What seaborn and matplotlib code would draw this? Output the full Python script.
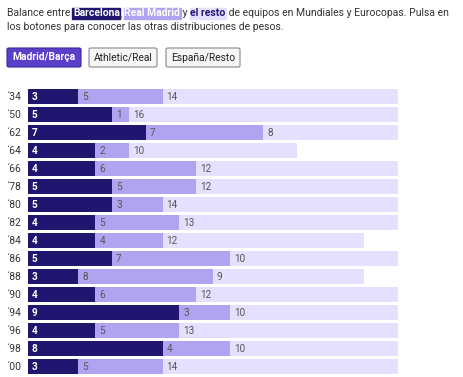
import matplotlib
matplotlib.use('Agg')
import matplotlib.pyplot as plt
import seaborn as sns
import pandas as pd
from matplotlib.patches import Rectangle, FancyBboxPatch

years = ["´34", "´50", "´62", "´64", "´66", "´78", "´80", "´82",
         "´84", "´86", "´88", "´90", "´94", "´96", "´98", "´00"]
barcelona = [3, 5, 7, 4, 4, 5, 5, 4, 4, 5, 3, 4, 9, 4, 8, 3]
madrid = [5, 1, 7, 2, 6, 5, 3, 5, 4, 7, 8, 6, 3, 5, 4, 5]
resto = [14, 16, 8, 10, 12, 12, 14, 13, 12, 10, 9, 12, 10, 13, 10, 14]
buttons = ["Madrid/Barça", "Athletic/Real", "España/Resto"]

C_DARK = "#21166f"
C_MID = "#b0a4f1"
C_LIGHT = "#e4e0fe"
C_BTN = "#5a40c9"

sns.set_theme(style="white")
plt.rcParams['font.family'] = ['Roboto', 'DejaVu Sans']

W, H = 464, 377
fig = plt.figure(figsize=(W / 100, H / 100), dpi=100)


def fx(px):
    return px / W


def fy(py):
    return 1 - py / H


# Bars axes
top, bottom = 87.5, 375.5
ax = fig.add_axes([fx(28), fy(bottom), fx(370), (bottom - top) / H])

df = pd.DataFrame({"year": years, "b": barcelona, "m": madrid, "r": resto})
df["bm"] = df["b"] + df["m"]
df["tot"] = df["bm"] + df["r"]

kw = dict(data=df, y="year", orient="h", width=15 / 18, saturation=1,
          linewidth=0, ax=ax, order=years)
sns.barplot(x="tot", color=C_LIGHT, **kw)
sns.barplot(x="bm", color=C_MID, **kw)
sns.barplot(x="b", color=C_DARK, **kw)

ax.set_xlim(0, 22)
ax.set_ylim(len(years) - 0.5, -0.5)
ax.set_xlabel("")
ax.set_ylabel("")
ax.set_xticks([])
for s in ax.spines.values():
    s.set_visible(False)
ax.tick_params(axis="y", length=0, pad=5, labelsize=7.4, labelcolor="#333333")

for i, row in df.iterrows():
    ax.annotate(str(row["b"]), (0, i), xytext=(4, 0), textcoords="offset pixels",
                ha="left", va="center", color="white", fontweight="bold", fontsize=7.2)
    ax.annotate(str(row["m"]), (row["b"], i), xytext=(4, 0), textcoords="offset pixels",
                ha="left", va="center", color="#555555", fontsize=7.2)
    ax.annotate(str(row["r"]), (row["bm"], i), xytext=(4, 0), textcoords="offset pixels",
                ha="left", va="center", color="#555555", fontsize=7.2)

# Header text
fig.canvas.draw()
renderer = fig.canvas.get_renderer()
fs = 7.45


def text_width(s, weight):
    t1 = fig.text(0, 0, s + "|", fontsize=fs, fontweight=weight)
    t2 = fig.text(0, 0, "|", fontsize=fs, fontweight=weight)
    w = t1.get_window_extent(renderer).width - t2.get_window_extent(renderer).width
    t1.remove()
    t2.remove()
    return w


pieces = [
    ("Balance entre ", None, "#333333", "normal"),
    ("Barcelona", C_DARK, "white", "bold"),
    (", ", None, "#333333", "normal"),
    ("Real Madrid", C_MID, "white", "bold"),
    (" y ", None, "#333333", "normal"),
    ("el resto", C_LIGHT, "#21166f", "bold"),
    (" de equipos en Mundiales y Eurocopas. Pulsa en", None, "#333333", "normal"),
]
x = 7
for txt, bg, col, wt in pieces:
    fig.text(fx(x), fy(13.5), txt, fontsize=fs, color=col, fontweight=wt,
             va="center", ha="left")
    w = text_width(txt, wt)
    if bg is not None:
        fig.patches.append(Rectangle((fx(x - 0.5), fy(18.5)), fx(w + 1), 10 / H,
                                     transform=fig.transFigure, color=bg, zorder=0.5))
    x += w
fig.text(fx(7), fy(26.5), "los botones para conocer las otras distribuciones de pesos.",
         fontsize=fs, color="#333333", va="center", ha="left")

# Buttons
btn_pos = [(7, 81), (89, 157), (166, 240)]
for i, (lbl, (x0, x1)) in enumerate(zip(buttons, btn_pos)):
    active = i == 0
    fig.patches.append(FancyBboxPatch((fx(x0), fy(67)), fx(x1 - x0), 19 / H,
                                      boxstyle="round,pad=0,rounding_size=0.004",
                                      transform=fig.transFigure,
                                      facecolor=C_BTN if active else "#f6f6f6",
                                      edgecolor="#3a2a9c" if active else "#8a8a8a",
                                      linewidth=0.8))
    fig.text(fx((x0 + x1) / 2), fy(57.5), lbl, fontsize=7.4,
             color="white" if active else "#222222",
             fontweight="bold" if active else "normal", ha="center", va="center")

fig.savefig("out.png", dpi=100)
